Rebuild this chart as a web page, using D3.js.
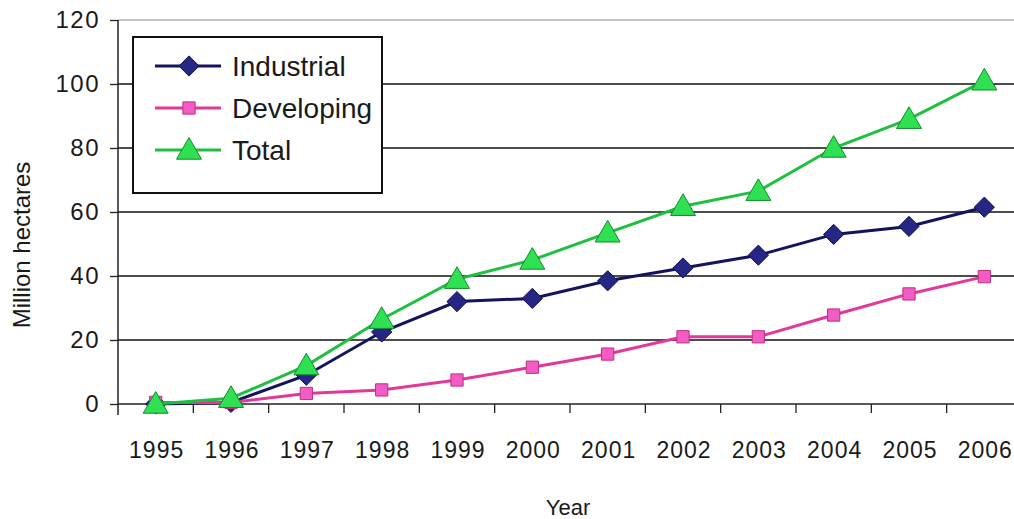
<!DOCTYPE html>
<html>
<head>
<meta charset="utf-8">
<script src="https://cdn.jsdelivr.net/npm/d3@7"></script>
<style>
  html, body { margin: 0; padding: 0; background: #fff; }
  svg { display: block; font-family: "Liberation Sans", Arial, sans-serif; }
</style>
</head>
<body>
<svg id="chart" width="1014" height="519"></svg>
<script>
// Area of GM crops, million hectares
const years = ["1995","1996","1997","1998","1999","2000","2001","2002","2003","2004","2005","2006"];
const industrial = [0, 0.5, 9, 22.5, 32, 33, 38.5, 42.5, 46.5, 53, 55.5, 61.5];
const developing = [0.5, 0.5, 3.3, 4.4, 7.5, 11.5, 15.6, 21, 21, 27.8, 34.4, 39.8];
const total = [0, 1.8, 12, 26.5, 39, 45, 53.5, 61.8, 66.5, 80, 89, 101];
const yTicks = [0, 20, 40, 60, 80, 100, 120];

const seriesNames = ["Industrial", "Developing", "Total"];
const seriesValues = [industrial, developing, total];

const styles = {
  Industrial: { line: "#14145e", fill: "#262686", stroke: "#10104a", shape: "diamond" },
  Developing: { line: "#e2389a", fill: "#f25cc4", stroke: "#c0307f", shape: "square" },
  Total:      { line: "#1fbf3f", fill: "#2ee052", stroke: "#158a2c", shape: "triangle" }
};

const svg = d3.select("#chart");
const plotLeft = 118, plotTop = 20, plotBottom = 404, plotRight = 1022;

const x = d3.scaleBand().domain(years).range([plotLeft, plotRight]).padding(0);
const y = d3.scaleLinear().domain([0, 120]).range([plotBottom, plotTop]);
const cx = d => x(d) + x.bandwidth() / 2;

// horizontal grid lines
svg.append("g").selectAll("line")
  .data(yTicks.filter(t => t > 0))
  .join("line")
  .attr("x1", plotLeft).attr("x2", 1014)
  .attr("y1", d => y(d)).attr("y2", d => y(d))
  .attr("stroke", d => d === 120 ? "#8a8a8a" : "#111")
  .attr("stroke-width", d => d === 120 ? 1 : 1.3);

// y axis
const yAxis = svg.append("g").attr("transform", `translate(${plotLeft},0)`)
  .call(d3.axisLeft(y).tickValues(yTicks).tickSize(8).tickPadding(10).tickFormat(d3.format("d")));
yAxis.select(".domain").remove();
yAxis.append("line").attr("x1", 0).attr("x2", 0).attr("y1", plotTop).attr("y2", plotBottom + 11)
  .attr("stroke", "#222").attr("stroke-width", 1.5);
yAxis.selectAll(".tick line").attr("stroke", "#222").attr("stroke-width", 1.3);
yAxis.selectAll(".tick text").attr("font-size", 24).attr("fill", "#1a1a1a")
  .attr("letter-spacing", 1.5)
  .attr("font-family", "Liberation Sans, Arial, sans-serif");

// x axis: ticks sit on category boundaries, labels at centers
const xg = svg.append("g");
xg.append("line").attr("x1", plotLeft).attr("x2", 1014).attr("y1", plotBottom).attr("y2", plotBottom)
  .attr("stroke", "#222").attr("stroke-width", 1.5);
xg.selectAll("line.tk")
  .data(years.slice(1))
  .join("line").attr("class", "tk")
  .attr("x1", d => x(d)).attr("x2", d => x(d))
  .attr("y1", plotBottom).attr("y2", plotBottom + 9)
  .attr("stroke", "#222").attr("stroke-width", 1.3);
xg.selectAll("text")
  .data(years)
  .join("text")
  .attr("x", d => cx(d) + 1).attr("y", 458)
  .attr("text-anchor", "middle")
  .attr("font-size", 23).attr("letter-spacing", 1).attr("fill", "#1a1a1a")
  .text(d => d);

// axis titles
svg.append("text").attr("x", 568).attr("y", 515).attr("text-anchor", "middle")
  .attr("font-size", 22).attr("fill", "#1a1a1a").text("Year");
svg.append("text").attr("transform", "translate(30,245) rotate(-90)")
  .attr("text-anchor", "middle").attr("font-size", 24).attr("fill", "#1a1a1a")
  .text("Million hectares");

// marker shapes (triangle nudged so its box, not its centroid, sits on the value)
const symbolFor = {
  diamond: d3.symbol().type(d3.symbolDiamond2).size(260),
  square: d3.symbol().type(d3.symbolSquare).size(150),
  triangle: d3.symbol().type(d3.symbolTriangle).size(270)
};
const nudge = shape => shape === "triangle" ? 2 : 0;
const line = d3.line().x((d, i) => cx(years[i])).y(d => y(d));

seriesNames.forEach((name, k) => {
  const s = styles[name];
  const vals = seriesValues[k];
  const g = svg.append("g");
  g.append("path").datum(vals).attr("d", line)
    .attr("fill", "none").attr("stroke", s.line).attr("stroke-width", 3);
  g.selectAll("path.m").data(vals).join("path").attr("class", "m")
    .attr("transform", (d, i) => `translate(${cx(years[i])},${y(d) + nudge(s.shape)})`)
    .attr("d", symbolFor[s.shape])
    .attr("fill", s.fill).attr("stroke", s.stroke).attr("stroke-width", 1);
});

// legend
const lg = svg.append("g");
lg.append("rect").attr("x", 133).attr("y", 37).attr("width", 249).attr("height", 156)
  .attr("fill", "#fff").attr("stroke", "#111").attr("stroke-width", 2);
const rowY = [66, 108, 150];
seriesNames.forEach((name, k) => {
  const s = styles[name];
  const ry = rowY[k];
  lg.append("line").attr("x1", 155).attr("x2", 221).attr("y1", ry).attr("y2", ry)
    .attr("stroke", s.line).attr("stroke-width", 3);
  lg.append("path").attr("transform", `translate(189,${ry + nudge(s.shape)})`)
    .attr("d", symbolFor[s.shape])
    .attr("fill", s.fill).attr("stroke", s.stroke).attr("stroke-width", 1);
  lg.append("text").attr("x", 232).attr("y", ry + 10)
    .attr("font-size", 28).attr("fill", "#1a1a1a").text(name);
});
</script>
</body>
</html>
